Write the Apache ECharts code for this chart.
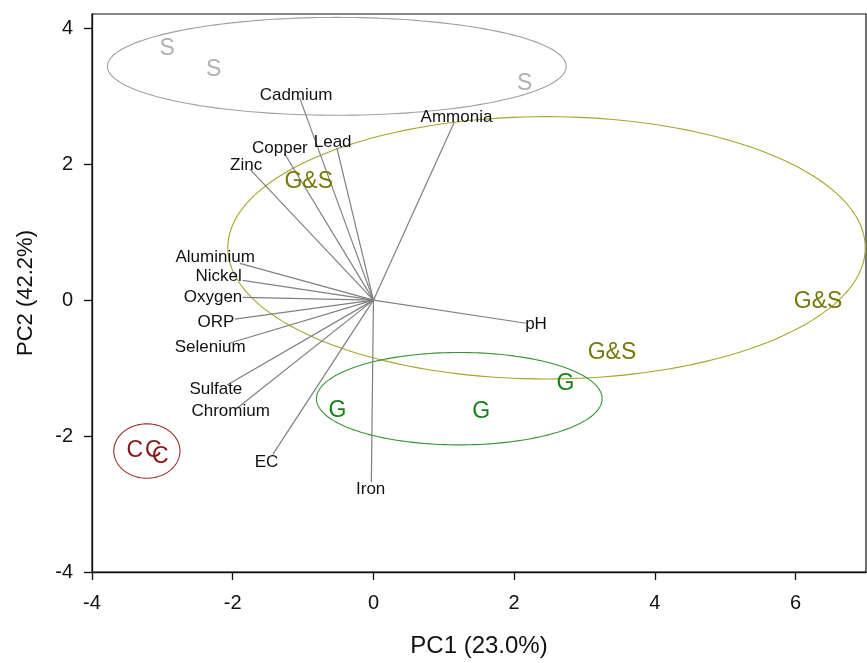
<!DOCTYPE html>
<html>
<head>
<meta charset="utf-8">
<script src="https://cdn.jsdelivr.net/npm/echarts@6/dist/echarts.min.js"></script>
<style>
html,body{margin:0;padding:0;background:#fff;}
#chart{width:867px;height:663px;}
</style>
</head>
<body>
<div id="chart"></div>
<script>
// ---- Data ----
var xTicks = [-4, -2, 0, 2, 4, 6];
var yTicks = [-4, -2, 0, 2, 4];

// loading vectors (arrow end points)
var varNames = ['Cadmium','Copper','Lead','Zinc','Ammonia','Aluminium','Nickel','Oxygen','ORP','Selenium','Sulfate','Chromium','EC','Iron','pH'];
var varX = [-1.05, -1.26, -0.52, -1.76, 1.15, -1.90, -1.86, -1.86, -1.97, -2.04, -2.08, -1.94, -1.43, -0.03, 2.17];
var varY = [ 2.98,  2.15,  2.24,  1.93, 2.62,  0.54,  0.29,  0.04, -0.28, -0.63, -1.25, -1.59, -2.27, -2.68, -0.34];
// label anchor (text centre) for each vector
var varLabelX = [-1.10, -1.33, -0.58, -1.81, 1.18, -2.25, -2.20, -2.28, -2.24, -2.32, -2.24, -2.03, -1.52, -0.04, 2.31];
var varLabelY = [ 3.02,  2.23,  2.32,  1.99, 2.69,  0.63,  0.35,  0.04, -0.33, -0.69, -1.31, -1.63, -2.39, -2.79, -0.36];

// sample scores, by group
var groupNames = ['S', 'G&S', 'G', 'C'];
var sX  = [-2.93, -2.27, 2.15];
var sY  = [ 3.70,  3.39, 3.19];
var gsX = [-0.92, 3.39, 6.32];
var gsY = [ 1.75, -0.78, -0.02];
var gX  = [-0.51, 1.53, 2.73];
var gY  = [-1.63, -1.64, -1.23];
var cX  = [-3.39, -3.13, -3.03];
var cY  = [-2.21, -2.21, -2.30];

// group ellipses: centre and semi-axes (data units), order S, G&S, G, C
var ellCX = [-0.52, 2.46, 1.22, -3.22];
var ellCY = [ 3.44, 0.77, -1.45, -2.22];
var ellRX = [ 3.26, 4.53, 2.03, 0.47];
var ellRY = [ 0.72, 1.93, 0.68, 0.40];

// ---- Styles ----
var FONT = "'Liberation Sans', Arial, Helvetica, sans-serif";
var groupTextColors = ['#b0b0b0', '#78780a', '#17801a', '#861818'];
var groupLineColors = ['#a0a0a0', '#a5a530', '#379537', '#9c3030'];

function pts(xs, ys, label) {
  return xs.map(function (x, i) { return [x, ys[i], label]; });
}

var series = [];

// ellipses
series.push({
  type: 'custom',
  clip: true,
  silent: true,
  data: ellCX.map(function (cx, i) { return [cx, ellCY[i], ellRX[i], ellRY[i], i]; }),
  renderItem: function (params, api) {
    var cx = api.value(0), cy = api.value(1), rx = api.value(2), ry = api.value(3), k = api.value(4);
    var points = [];
    var n = 180;
    for (var j = 0; j < n; j++) {
      var t = j / n * Math.PI * 2;
      points.push(api.coord([cx + rx * Math.cos(t), cy + ry * Math.sin(t)]));
    }
    return {
      type: 'polygon',
      shape: { points: points },
      style: { fill: 'none', stroke: groupLineColors[k], lineWidth: 1.1 }
    };
  },
  z: 2
});

// loading vectors
series.push({
  type: 'custom',
  clip: true,
  silent: true,
  data: varX.map(function (x, i) { return [x, varY[i]]; }),
  renderItem: function (params, api) {
    var p0 = api.coord([0, 0]);
    var p1 = api.coord([api.value(0), api.value(1)]);
    return {
      type: 'line',
      shape: { x1: p0[0], y1: p0[1], x2: p1[0], y2: p1[1] },
      style: { stroke: '#808080', lineWidth: 1.2 }
    };
  },
  z: 3
});

// vector labels
series.push({
  type: 'scatter',
  symbolSize: 0,
  silent: true,
  itemStyle: { opacity: 1 },
  data: varLabelX.map(function (x, i) { return [x, varLabelY[i], varNames[i]]; }),
  label: {
    show: true,
    position: 'inside',
    formatter: function (p) { return p.data[2]; },
    color: '#111111',
    fontSize: 17,
    fontFamily: FONT
  },
  z: 4
});

// group labels
var groupData = [pts(sX, sY, 'S'), pts(gsX, gsY, 'G&S'), pts(gX, gY, 'G'), pts(cX, cY, 'C')];
groupData.forEach(function (d, k) {
  series.push({
    type: 'scatter',
    name: groupNames[k],
    symbolSize: 0,
    silent: true,
    itemStyle: { opacity: 1 },
    data: d,
    label: {
      show: true,
      position: 'inside',
      formatter: function (p) { return p.data[2]; },
      color: groupTextColors[k],
      fontSize: 23,
      fontFamily: FONT
    },
    z: 5
  });
});

var chart = echarts.init(document.getElementById('chart'), null, { renderer: 'canvas' });
chart.setOption({
  animation: false,
  backgroundColor: '#ffffff',
  grid: {
    left: 92, right: 1, top: 14, bottom: 89,
    show: true, borderColor: '#111', borderWidth: 1.2, backgroundColor: 'transparent'
  },
  xAxis: {
    type: 'value',
    min: -4, max: 7, interval: 2,
    name: 'PC1 (23.0%)',
    nameLocation: 'middle',
    nameGap: 62,
    nameTextStyle: { fontSize: 24, color: '#111', fontFamily: FONT },
    axisLine: { show: true, onZero: false, lineStyle: { color: '#111', width: 1.3 } },
    axisTick: { show: true, inside: false, length: 8, customValues: xTicks, lineStyle: { color: '#111', width: 1.3 } },
    axisLabel: { customValues: xTicks, margin: 21, fontSize: 20, color: '#111', fontFamily: FONT },
    splitLine: { show: false }
  },
  yAxis: {
    type: 'value',
    min: -4, max: 4.21,
    name: 'PC2 (42.2%)',
    nameLocation: 'middle',
    nameGap: 55,
    nameRotate: 90,
    nameTextStyle: { fontSize: 22, color: '#111', fontFamily: FONT },
    axisLine: { show: true, onZero: false, lineStyle: { color: '#111', width: 1.3 } },
    axisTick: { show: true, inside: false, length: 8, customValues: yTicks, lineStyle: { color: '#111', width: 1.3 } },
    axisLabel: { customValues: yTicks, margin: 19, fontSize: 20, color: '#111', fontFamily: FONT },
    splitLine: { show: false }
  },
  series: series
});
</script>
</body>
</html>
